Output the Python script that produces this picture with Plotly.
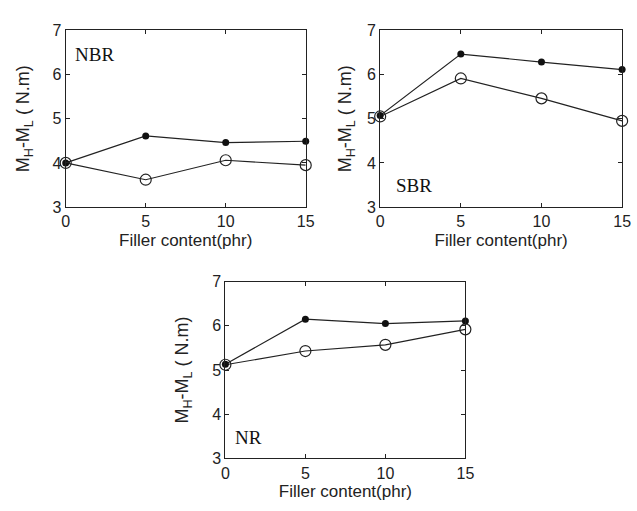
import plotly.graph_objects as go

filler = [0, 5, 10, 15]
nbr_filled = [4.0, 4.61, 4.46, 4.49]
nbr_open = [4.0, 3.62, 4.06, 3.95]
sbr_filled = [5.07, 6.46, 6.28, 6.11]
sbr_open = [5.05, 5.91, 5.46, 4.95]
nr_filled = [5.13, 6.15, 6.05, 6.11]
nr_open = [5.12, 5.43, 5.57, 5.92]
panel_names = ["NBR", "SBR", "NR"]
x_ticks = [0, 5, 10, 15]
y_ticks = [3, 4, 5, 6, 7]

W, H = 637, 511
def px_x(a, b):
    return [a / W, b / W]
def px_y(top, bottom):
    return [1 - bottom / H, 1 - top / H]

domains = [
    (px_x(63, 308), px_y(23, 206)),
    (px_x(384, 631), px_y(23, 206)),
    (px_x(226, 471), px_y(283, 466)),
]
series = [(nbr_filled, nbr_open), (sbr_filled, sbr_open), (nr_filled, nr_open)]
label_pos = [(0.03, 0.863), (0.057, 0.124), (0.033, 0.118)]
ystandoff = [18, 10, 18]

fig = go.Figure()
tick_font = dict(family="Arial, Liberation Sans, sans-serif", size=16, color="#222")
title_font = dict(family="Arial, Liberation Sans, sans-serif", size=17, color="#222")
ytitle_font = dict(family="Arial, Liberation Sans, sans-serif", size=18, color="#222")

for i, ((xd, yd), (filled, opened)) in enumerate(zip(domains, series)):
    n = "" if i == 0 else str(i + 1)
    xa, ya = "x" + n, "y" + n
    fig.add_trace(go.Scatter(x=filler, y=opened, xaxis=xa, yaxis=ya, mode="lines+markers",
                             line=dict(color="#222", width=1.2),
                             marker=dict(symbol="circle-open", size=11, color="#222", line=dict(width=1.2)),
                             showlegend=False, cliponaxis=False))
    fig.add_trace(go.Scatter(x=filler, y=filled, xaxis=xa, yaxis=ya, mode="lines+markers",
                             line=dict(color="#222", width=1.2),
                             marker=dict(symbol="circle", size=7, color="#111"),
                             showlegend=False, cliponaxis=False))
    axis_common = dict(showgrid=False, zeroline=False, showline=True, linecolor="#222", linewidth=1,
                       mirror="ticks", ticks="inside", ticklen=4, tickcolor="#222", tickfont=tick_font)
    fig.layout["xaxis" + n] = dict(domain=xd, range=[0, 15], tickvals=x_ticks, anchor=ya,
                                    title=dict(text="Filler content(phr)", font=title_font, standoff=4),
                                    **axis_common)
    fig.layout["yaxis" + n] = dict(domain=yd, range=[3, 7], tickvals=y_ticks, anchor=xa,
                                    title=dict(text="M<sub>H</sub>-M<sub>L</sub> ( N.m)", font=ytitle_font,
                                               standoff=ystandoff[i]),
                                    **axis_common)
    lx, ly = label_pos[i]
    fig.add_annotation(text=panel_names[i], xref=xa + " domain", yref=ya + " domain", x=lx, y=ly,
                       xanchor="left", yanchor="middle", showarrow=False,
                       font=dict(family="Liberation Serif, Times New Roman, serif", size=19, color="#111"))

fig.update_layout(width=W, height=H, margin=dict(l=0, r=0, t=0, b=0),
                  paper_bgcolor="white", plot_bgcolor="white")
fig.write_html("out.html")
